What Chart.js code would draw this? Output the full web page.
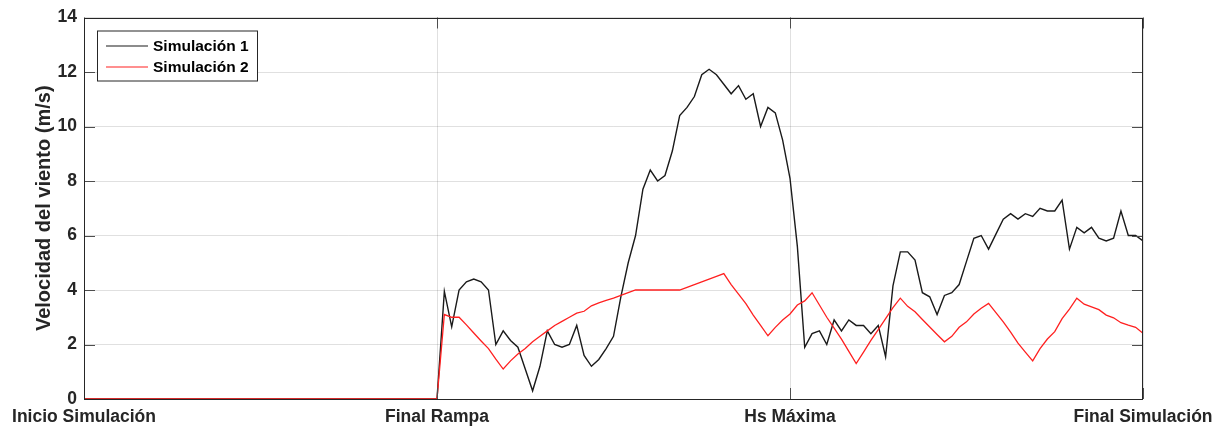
<!DOCTYPE html>
<html>
<head>
<meta charset="utf-8">
<script src="https://cdn.jsdelivr.net/npm/chart.js@4.4.1/dist/chart.umd.min.js"></script>
<style>
  html, body { margin: 0; padding: 0; background: #ffffff; }
  #contenedor { width: 1221px; height: 428px; }
</style>
</head>
<body>
<div id="contenedor"><canvas id="graficoViento"></canvas></div>
<script>
// Eje X: marcas de tiempo (pasos de simulación) y sus etiquetas
const posicionesX = [0, 48, 96, 144];
const etiquetasX = ['Inicio Simulación', 'Final Rampa', 'Hs Máxima', 'Final Simulación'];
const ticksY = [0, 2, 4, 6, 8, 10, 12, 14];

// Los datos empiezan en "Final Rampa"; antes la velocidad es 0
const pasoInicio = 0;
const pasoRampa = 48;

// Velocidad del viento (m/s), un valor por paso desde Final Rampa hasta Final Simulación
const simulacion1 = [
    0, 3.95, 2.65, 4.0, 4.3, 4.4, 4.3, 4.0, 2.0, 2.5,
    2.15, 1.9, 1.1, 0.3, 1.2, 2.5, 2.0, 1.9, 2.0, 2.7,
    1.6, 1.2, 1.45, 1.85, 2.3, 3.75, 5.0, 6.0, 7.7, 8.4,
    8.0, 8.2, 9.1, 10.4, 10.7, 11.1, 11.9, 12.1, 11.9, 11.55,
    11.2, 11.5, 11.0, 11.2, 10.0, 10.7, 10.5, 9.5, 8.1, 5.6,
    1.9, 2.4, 2.5, 2.0, 2.9, 2.5, 2.9, 2.7, 2.7, 2.4,
    2.7, 1.55, 4.15, 5.4, 5.4, 5.1, 3.9, 3.75, 3.1, 3.8,
    3.9, 4.2, 5.05, 5.9, 6.0, 5.5, 6.05, 6.6, 6.8, 6.6,
    6.8, 6.7, 7.0, 6.9, 6.9, 7.3, 5.5, 6.3, 6.1, 6.3,
    5.9, 5.8, 5.9, 6.9, 6.0, 6.0, 5.8
];
const simulacion2 = [
    0, 3.1, 3.0, 3.0, 2.72, 2.42, 2.13, 1.85, 1.46, 1.1,
    1.4, 1.65, 1.85, 2.1, 2.3, 2.5, 2.7, 2.85, 3.0, 3.15,
    3.22, 3.42, 3.53, 3.62, 3.7, 3.8, 3.9, 4.0, 4.0, 4.0,
    4.0, 4.0, 4.0, 4.0, 4.1, 4.2, 4.3, 4.4, 4.5, 4.6,
    4.2, 3.85, 3.5, 3.08, 2.7, 2.32, 2.63, 2.9, 3.12, 3.45,
    3.6, 3.9, 3.45, 3.0, 2.6, 2.2, 1.75, 1.3, 1.72, 2.15,
    2.55, 2.95, 3.35, 3.7, 3.4, 3.2, 2.92, 2.64, 2.37, 2.1,
    2.3, 2.63, 2.83, 3.12, 3.33, 3.51, 3.17, 2.83, 2.45, 2.05,
    1.72, 1.4, 1.85, 2.2, 2.47, 2.95, 3.3, 3.7, 3.48, 3.38,
    3.28, 3.08, 2.98, 2.8, 2.71, 2.63, 2.41
];

const colorEjes = '#262626';
const fuente = 'Liberation Sans, Arial, sans-serif';

// Convierte una serie en puntos {x, y} con el tramo inicial en cero
function armarPuntos(serie) {
    const puntos = [{ x: pasoInicio, y: 0 }];
    serie.forEach(function (v, i) {
        puntos.push({ x: pasoRampa + i, y: v });
    });
    return puntos;
}

// Marco, marcas hacia adentro (estilo MATLAB) y leyenda con recuadro
const marcoYLeyenda = {
    id: 'marcoYLeyenda',
    afterDatasetsDraw: function (chart) {
        const ctx = chart.ctx;
        const a = chart.chartArea;
        const sx = chart.scales.x;
        const sy = chart.scales.y;
        const largo = 11;
        ctx.save();
        ctx.strokeStyle = '#4d4d4d';
        ctx.lineWidth = 1;
        ctx.beginPath();
        ticksY.forEach(function (v) {
            const y = Math.round(sy.getPixelForValue(v)) + 0.5;
            ctx.moveTo(a.left, y); ctx.lineTo(a.left + largo, y);
            ctx.moveTo(a.right, y); ctx.lineTo(a.right - largo, y);
        });
        posicionesX.forEach(function (v) {
            const x = Math.round(sx.getPixelForValue(v)) + 0.5;
            ctx.moveTo(x, a.bottom); ctx.lineTo(x, a.bottom - largo);
            ctx.moveTo(x, a.top); ctx.lineTo(x, a.top + largo);
        });
        ctx.stroke();
        ctx.strokeStyle = colorEjes;
        ctx.strokeRect(Math.round(a.left) + 0.5, Math.round(a.top) + 0.5,
            Math.round(a.right - a.left) - 1, Math.round(a.bottom - a.top) - 1);

        // Leyenda
        const lx = a.left + 13, ly = a.top + 13, ancho = 160, alto = 50;
        ctx.fillStyle = '#ffffff';
        ctx.fillRect(lx, ly, ancho, alto);
        ctx.strokeStyle = colorEjes;
        ctx.strokeRect(lx + 0.5, ly + 0.5, ancho, alto);
        ctx.font = 'bold 15.5px ' + fuente;
        ctx.textBaseline = 'middle';
        ctx.textAlign = 'left';
        chart.data.datasets.forEach(function (ds, i) {
            const yy = ly + 15 + i * 21;
            ctx.strokeStyle = ds.borderColor;
            ctx.lineWidth = 1.2;
            ctx.beginPath();
            ctx.moveTo(lx + 9, yy + 0.5);
            ctx.lineTo(lx + 51, yy + 0.5);
            ctx.stroke();
            ctx.fillStyle = '#000000';
            ctx.fillText(ds.label, lx + 56, yy + 1);
        });
        ctx.restore();
    }
};

const ctx = document.getElementById('graficoViento').getContext('2d');
new Chart(ctx, {
    type: 'line',
    data: {
        datasets: [{
            label: 'Simulación 1',
            data: armarPuntos(simulacion1),
            borderColor: '#1a1a1a',
            borderWidth: 1.4,
            pointRadius: 0,
            tension: 0,
            fill: false,
            order: 1
        },
        {
            label: 'Simulación 2',
            data: armarPuntos(simulacion2),
            borderColor: '#ff2020',
            borderWidth: 1.3,
            pointRadius: 0,
            tension: 0,
            fill: false,
            order: 0
        }]
    },
    options: {
        responsive: true,
        maintainAspectRatio: false,
        animation: false,
        layout: { padding: { left: 0, right: 78, top: 16, bottom: 0 } },
        plugins: {
            legend: { display: false },
            tooltip: { enabled: false }
        },
        scales: {
            x: {
                type: 'linear',
                min: posicionesX[0],
                max: posicionesX[posicionesX.length - 1],
                afterBuildTicks: function (scale) {
                    scale.ticks = posicionesX.map(function (v) { return { value: v }; });
                },
                afterFit: function (scale) {
                    scale.height = 29;
                    scale.paddingRight = 0;
                    scale.paddingLeft = 0;
                },
                ticks: {
                    autoSkip: false,
                    maxRotation: 0,
                    padding: 8,
                    color: colorEjes,
                    font: { family: fuente, size: 17.5, weight: 'bold' },
                    callback: function (value) {
                        const i = posicionesX.indexOf(value);
                        return i >= 0 ? etiquetasX[i] : '';
                    }
                },
                grid: { color: 'rgba(0,0,0,0.12)', drawTicks: false },
                border: { display: false }
            },
            y: {
                min: 0,
                max: 14,
                afterBuildTicks: function (scale) {
                    scale.ticks = ticksY.map(function (v) { return { value: v }; });
                },
                afterFit: function (scale) { scale.width = 84; },
                ticks: {
                    padding: 7,
                    color: colorEjes,
                    font: { family: fuente, size: 17.5, weight: 'bold' }
                },
                grid: { color: 'rgba(0,0,0,0.12)', drawTicks: false },
                border: { display: false },
                title: {
                    display: true,
                    text: 'Velocidad del viento (m/s)',
                    color: colorEjes,
                    padding: { top: 32, bottom: 0 },
                    font: { family: fuente, size: 20, weight: 'bold' }
                }
            }
        }
    },
    plugins: [marcoYLeyenda]
});
</script>
</body>
</html>
